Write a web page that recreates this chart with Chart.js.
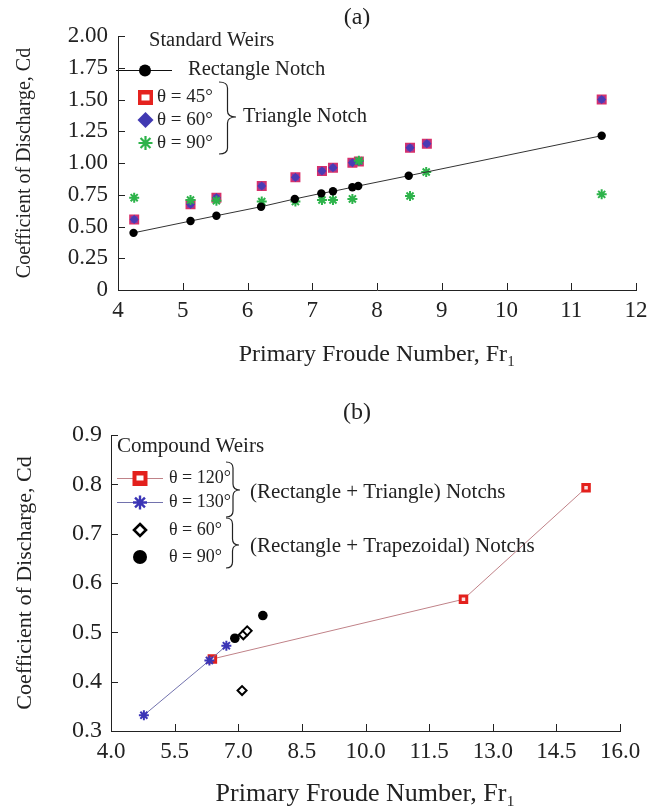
<!DOCTYPE html>
<html><head><meta charset="utf-8">
<script src="https://cdn.jsdelivr.net/npm/chart.js@4.4.1/dist/chart.umd.min.js"></script>
<style>
html,body{margin:0;padding:0;background:#fff;}
#wrap{position:relative;width:659px;height:807px;overflow:hidden;background:#fff;}
canvas{position:absolute;left:0;}
</style></head><body>
<div id="wrap">
<canvas id="ca" width="659" height="400" style="top:0px"></canvas>
<canvas id="cb" width="659" height="407" style="top:400px"></canvas>
</div>
<script>
// ---------- data: chart (a) ----------
const topXTicks = [4, 5, 6, 7, 8, 9, 10, 11, 12];
const topYTicks = [0, 0.25, 0.5, 0.75, 1.0, 1.25, 1.5, 1.75, 2.0];
const rectNotchX = [4.24, 5.12, 5.52, 6.21, 6.73, 7.14, 7.32, 7.62, 7.71, 8.49, 11.47];
const rectNotchY = [0.45, 0.543, 0.585, 0.656, 0.717, 0.761, 0.777, 0.809, 0.819, 0.90, 1.215];
const tri45X = [4.25, 5.12, 5.52, 6.22, 6.74, 7.15, 7.32, 7.62, 7.72, 8.51, 8.77, 11.47];
const tri45Y = [0.556, 0.675, 0.727, 0.819, 0.887, 0.937, 0.963, 1.002, 1.012, 1.12, 1.152, 1.50];
const tri60X = [4.25, 5.12, 5.52, 6.22, 6.74, 7.15, 7.32, 7.62, 7.72, 8.51, 8.77, 11.47];
const tri60Y = [0.556, 0.675, 0.727, 0.819, 0.887, 0.937, 0.963, 1.002, 1.012, 1.12, 1.152, 1.50];
const tri90X = [4.25, 5.12, 5.52, 6.22, 6.74, 7.15, 7.32, 7.62, 7.72, 8.51, 8.76, 11.47];
const tri90Y = [0.727, 0.709, 0.703, 0.696, 0.696, 0.709, 0.709, 0.717, 1.018, 0.74, 0.929, 0.753];

// ---------- data: chart (b) ----------
const botXTicks = [4.0, 5.5, 7.0, 8.5, 10.0, 11.5, 13.0, 14.5, 16.0];
const botYTicks = [0.3, 0.4, 0.5, 0.6, 0.7, 0.8, 0.9];
const tri120X = [6.39, 12.31, 15.20];
const tri120Y = [0.446, 0.567, 0.793];
const tri130X = [4.775, 6.32, 6.72];
const tri130Y = [0.332, 0.443, 0.473];
const trap60X = [7.09, 7.12, 7.21];
const trap60Y = [0.382, 0.495, 0.503];
const trap90X = [6.92, 7.58];
const trap90Y = [0.488, 0.534];

const FONT = "'Liberation Serif', 'Times New Roman', serif";
const INK = '#222';
const zip = (xs, ys) => xs.map((x, i) => ({x: x, y: ys[i]}));

// ---------- helpers for decorations ----------
function brace(ctx, x, y1, y2, w, ym) {
  const m = x + w / 2, t = x + w, r = Math.min(w / 2, 6);
  ctx.beginPath();
  ctx.moveTo(x, y1);
  ctx.quadraticCurveTo(m, y1, m, y1 + r);
  ctx.lineTo(m, ym - r);
  ctx.quadraticCurveTo(m, ym, t, ym);
  ctx.quadraticCurveTo(m, ym, m, ym + r);
  ctx.lineTo(m, y2 - r);
  ctx.quadraticCurveTo(m, y2, x, y2);
  ctx.stroke();
}
function star(ctx, x, y, r) {
  ctx.beginPath();
  for (let k = 0; k < 4; k++) {
    const a = k * Math.PI / 4;
    ctx.moveTo(x - r * Math.cos(a), y - r * Math.sin(a));
    ctx.lineTo(x + r * Math.cos(a), y + r * Math.sin(a));
  }
  ctx.stroke();
}
function diamond(ctx, x, y, r) {
  ctx.beginPath();
  ctx.moveTo(x, y - r); ctx.lineTo(x + r, y); ctx.lineTo(x, y + r); ctx.lineTo(x - r, y); ctx.closePath();
}
function text(ctx, s, x, y, size, align) {
  ctx.font = size + 'px ' + FONT;
  ctx.fillStyle = INK;
  ctx.textAlign = align || 'left';
  ctx.textBaseline = 'middle';
  ctx.fillText(s, x, y);
}

// inner tick marks drawn from the library's own scales
const innerTicks = {
  id: 'innerTicks',
  afterDraw(chart, args, opts) {
    const ctx = chart.ctx, a = chart.chartArea, L = opts.len || 7;
    ctx.save();
    ctx.strokeStyle = INK; ctx.lineWidth = 1;
    const xs = chart.scales.x, ys = chart.scales.y;
    xs.ticks.forEach(t => {
      if (t.value === xs.min) return;
      const p = Math.round(xs.getPixelForValue(t.value)) + 0.5;
      ctx.beginPath(); ctx.moveTo(p, a.bottom); ctx.lineTo(p, a.bottom - L); ctx.stroke();
    });
    ys.ticks.forEach(t => {
      if (t.value === ys.min) return;
      const p = Math.round(ys.getPixelForValue(t.value)) + 0.5;
      ctx.beginPath(); ctx.moveTo(a.left, p); ctx.lineTo(a.left + L, p); ctx.stroke();
    });
    ctx.restore();
  }
};

function scaleCommon(ticksArr, min, max, fmt, fit, tickSize, titleText, titleSize, titlePad, tickPad, isX) {
  const o = {
    type: 'linear', min: min, max: max,
    afterBuildTicks: s => { s.ticks = ticksArr.map(v => ({value: v})); },
    grid: {display: false, drawTicks: false},
    border: {display: true, color: INK, width: 1},
    ticks: {padding: tickPad, color: INK, font: {family: FONT, size: tickSize}, autoSkip: false, maxRotation: 0, callback: fmt},
    title: {display: true, text: titleText, color: INK, font: {family: FONT, size: titleSize, lineHeight: 1}, padding: titlePad}
  };
  if (isX) o.afterFit = s => { s.height = fit; }; else o.afterFit = s => { s.width = fit; };
  return o;
}

// ---------- chart (a) ----------
const decorA = {
  id: 'decorA',
  afterDraw(chart) {
    const ctx = chart.ctx;
    ctx.save();
    text(ctx, '(a)', 357, 18, 24, 'center');
    text(ctx, 'Standard Weirs', 149, 41, 20.5);
    // Rectangle notch entry
    ctx.strokeStyle = '#111'; ctx.lineWidth = 1;
    ctx.beginPath(); ctx.moveTo(116, 70.5); ctx.lineTo(172, 70.5); ctx.stroke();
    ctx.fillStyle = '#000'; ctx.beginPath(); ctx.arc(145, 70.5, 6, 0, Math.PI * 2); ctx.fill();
    text(ctx, 'Rectangle Notch', 188, 70, 20.5);
    // theta 45
    ctx.fillStyle = '#e5231f'; ctx.fillRect(138, 90, 15, 15);
    ctx.fillStyle = '#fff'; ctx.fillRect(141.5, 94.5, 8, 6);
    text(ctx, 'θ = 45°', 157, 97, 19);
    // theta 60
    ctx.fillStyle = '#4039b2'; diamond(ctx, 145.5, 120, 8); ctx.fill();
    text(ctx, 'θ = 60°', 157, 120, 19);
    // theta 90
    ctx.strokeStyle = '#2db34a'; ctx.lineWidth = 2.2; star(ctx, 145.5, 143, 7);
    text(ctx, 'θ = 90°', 157, 143, 19);
    ctx.strokeStyle = INK; ctx.lineWidth = 1.2;
    brace(ctx, 219, 82, 154, 17, 117);
    text(ctx, 'Triangle Notch', 243, 117, 20.5);
    ctx.restore();
  }
};

new Chart(document.getElementById('ca'), {
  type: 'scatter',
  data: {datasets: [
    {label: 'Rectangle Notch', data: zip(rectNotchX, rectNotchY), showLine: true, borderColor: '#333', borderWidth: 1,
     pointStyle: 'circle', pointRadius: 4.2, pointBackgroundColor: '#000', pointBorderColor: '#000', pointBorderWidth: 0, order: 1},
    {label: 'θ = 90°', data: zip(tri90X, tri90Y), showLine: false, pointStyle: 'star', pointRadius: 5,
     pointBorderColor: '#2db34a', pointBackgroundColor: '#2db34a', pointBorderWidth: 2, order: 2},
    {label: 'θ = 60°', data: zip(tri60X, tri60Y), showLine: false, pointStyle: 'rectRot', pointRadius: 4.6,
     pointBackgroundColor: '#4a3cb4', pointBorderColor: '#4a3cb4', pointBorderWidth: 0, order: 3},
    {label: 'θ = 45°', data: zip(tri45X, tri45Y), showLine: false, pointStyle: 'rect', pointRadius: 6,
     pointBackgroundColor: '#8d3aa2', pointBorderColor: '#d8306a', pointBorderWidth: 1.5, order: 4}
  ]},
  options: {
    responsive: false, animation: false, devicePixelRatio: 1,
    layout: {padding: {top: 36, right: 23, left: 0, bottom: 0}},
    plugins: {legend: {display: false}, tooltip: {enabled: false}, innerTicks: {len: 7}},
    scales: {
      x: scaleCommon(topXTicks, 4, 12, v => String(v), 110, 23, 'Primary Froude Number, Fr₁', 24, {top: 0, bottom: 33}, 7, true),
      y: scaleCommon(topYTicks, 0, 2, v => v === 0 ? '0' : v.toFixed(2), 118, 23, 'Coefficient of Discharge, Cd', 20, {top: 15, bottom: 0}, 10, false)
    }
  },
  plugins: [innerTicks, decorA]
});

// ---------- chart (b) ----------
const decorB = {
  id: 'decorB',
  afterDraw(chart) {
    const ctx = chart.ctx;
    ctx.save();
    text(ctx, '(b)', 357, 13, 24, 'center');
    text(ctx, 'Compound Weirs', 117, 46, 21);
    // theta 120
    ctx.strokeStyle = '#c08288'; ctx.lineWidth = 1;
    ctx.beginPath(); ctx.moveTo(117, 78.5); ctx.lineTo(163, 78.5); ctx.stroke();
    ctx.fillStyle = '#e3201c'; ctx.fillRect(132.5, 71, 15, 15);
    ctx.fillStyle = '#fff'; ctx.fillRect(136.5, 75.5, 7, 5);
    text(ctx, 'θ = 120°', 169, 78, 18);
    // theta 130
    ctx.strokeStyle = '#7272ad'; ctx.lineWidth = 1;
    ctx.beginPath(); ctx.moveTo(117, 102.5); ctx.lineTo(163, 102.5); ctx.stroke();
    ctx.strokeStyle = '#3b35b6'; ctx.lineWidth = 2.4; star(ctx, 140, 102.5, 7);
    text(ctx, 'θ = 130°', 169, 102, 18);
    // theta 60 (open diamond)
    ctx.fillStyle = '#fff'; ctx.strokeStyle = '#000'; ctx.lineWidth = 2.6;
    diamond(ctx, 140, 130, 6); ctx.fill(); ctx.stroke();
    text(ctx, 'θ = 60°', 169, 130, 18);
    // theta 90 (filled circle)
    ctx.fillStyle = '#000'; ctx.beginPath(); ctx.arc(140, 157, 7, 0, Math.PI * 2); ctx.fill();
    text(ctx, 'θ = 90°', 169, 157, 18);
    ctx.strokeStyle = INK; ctx.lineWidth = 1.2;
    brace(ctx, 226, 62, 117, 14, 90);
    brace(ctx, 226, 118, 168, 13, 145);
    text(ctx, '(Rectangle + Triangle) Notchs', 250, 92, 21);
    text(ctx, '(Rectangle + Trapezoidal) Notchs', 250, 146, 21);
    ctx.restore();
  }
};

new Chart(document.getElementById('cb'), {
  type: 'scatter',
  data: {datasets: [
    {label: 'θ = 130°', data: zip(tri130X, tri130Y), showLine: true, borderColor: '#7272ad', borderWidth: 1,
     pointStyle: 'star', pointRadius: 5, pointBorderColor: '#3b35b6', pointBackgroundColor: '#3b35b6', pointBorderWidth: 2, order: 1},
    {label: 'θ = 120°', data: zip(tri120X, tri120Y), showLine: true, borderColor: '#c08288', borderWidth: 1,
     pointStyle: 'rect', pointRadius: 4.6, pointBorderColor: '#e3201c', pointBackgroundColor: '#fbe0e0', pointBorderWidth: 3, order: 2},
    {label: 'θ = 60°', data: zip(trap60X, trap60Y), showLine: false, pointStyle: 'rectRot', pointRadius: 4.5,
     pointBorderColor: '#000', pointBackgroundColor: '#fff', pointBorderWidth: 2, order: 3},
    {label: 'θ = 90°', data: zip(trap90X, trap90Y), showLine: false, pointStyle: 'circle', pointRadius: 4.8,
     pointBorderColor: '#000', pointBackgroundColor: '#000', pointBorderWidth: 0, order: 4}
  ]},
  options: {
    responsive: false, animation: false, devicePixelRatio: 1,
    layout: {padding: {top: 35, right: 39, left: 0, bottom: 0}},
    plugins: {legend: {display: false}, tooltip: {enabled: false}, innerTicks: {len: 7}},
    scales: {
      x: scaleCommon(botXTicks, 4, 16, v => v.toFixed(1), 76, 23, 'Primary Froude Number, Fr₁', 26, {top: 0, bottom: 0}, 7, true),
      y: scaleCommon(botYTicks, 0.3, 0.9, v => v.toFixed(1), 111, 24, 'Coefficient of Discharge, Cd', 22, {top: 14, bottom: 0}, 9, false)
    }
  },
  plugins: [innerTicks, decorB]
});
</script>
</body></html>
